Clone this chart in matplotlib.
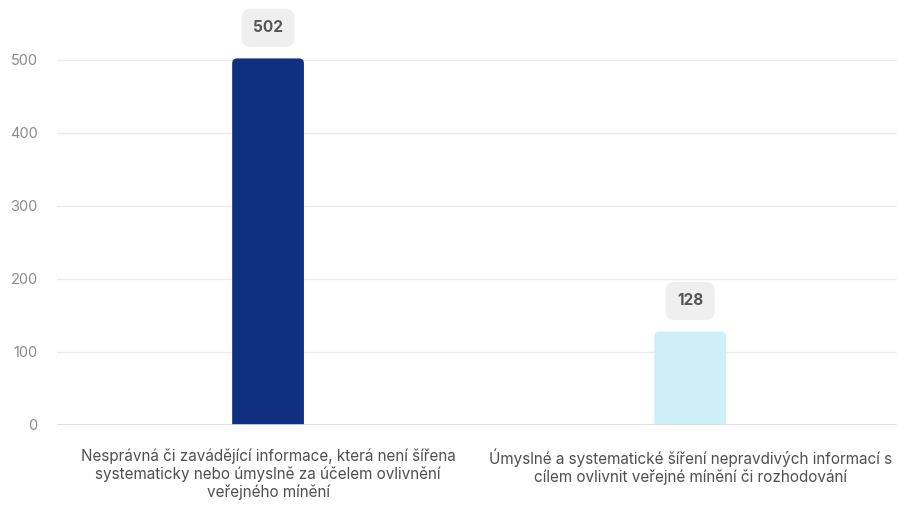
import matplotlib
matplotlib.use('Agg')
import matplotlib.pyplot as plt
from matplotlib.patches import FancyBboxPatch

categories = [
    'Nesprávná či zavádějící informace, která není šířena\nsystematicky nebo úmyslně za účelem ovlivnění\nveřejného mínění',
    'Úmyslné a systematické šíření nepravdivých informací s\ncílem ovlivnit veřejné mínění či rozhodování',
]
values = [502, 128]
colors = ['#102f80', '#cdeff8']
yticks = [0, 100, 200, 300, 400, 500]

plt.rcParams['font.family'] = ['Inter', 'DejaVu Sans']

fig = plt.figure(figsize=(8.97, 5.05), dpi=100)
ax = fig.add_axes([57 / 897, 80 / 505, 1 - 57 / 897, 425 / 505])

ax.set_xlim(-0.5, 1.49)
ax.set_ylim(0, 582)

x = list(range(len(values)))
bars = ax.bar(x, values, width=0.17, color=colors, zorder=3)

# rounded top corners: replace each bar by a rounded patch that starts below 0
# (the axes clip off the lower rounded corners)
px_x = 840 / 1.99
px_y = 425 / 582
asp = px_x / px_y
r = 5 / px_x
for b, c in zip(bars, colors):
    bx, bw, bh = b.get_x(), b.get_width(), b.get_height()
    b.set_visible(False)
    y0 = -20
    ax.add_patch(FancyBboxPatch((bx + r, y0 + r * asp), bw - 2 * r, bh - y0 - 2 * r * asp,
                                boxstyle=f'round,pad={r},rounding_size={r}',
                                mutation_aspect=asp, fc=c, ec='none', zorder=3))

ax.set_yticks(yticks)
ax.set_yticklabels([str(t) for t in yticks], fontsize=10.5, color='#8a8a8a')
ax.set_xticks(x)
ax.set_xticklabels(categories, fontsize=11, color='#4f4f4f', linespacing=1.2)
ax.tick_params(axis='both', length=0)
ax.tick_params(axis='y', pad=14)
ax.tick_params(axis='x', pad=17)

ax.grid(axis='y', color='#ebebeb', linewidth=1, zorder=0)
for s in ax.spines.values():
    s.set_visible(False)
ax.axhline(0, color='#d9dde6', linewidth=1.2, zorder=4)

for xi, v in zip(x, values):
    ax.annotate(str(v), (xi, v), xytext=(0, 22), textcoords='offset points',
                ha='center', va='center', fontsize=11, fontweight='bold', color='#555555',
                bbox=dict(boxstyle='round,pad=0.75,rounding_size=0.6', fc='#efefef', ec='none'))

fig.savefig('out.png', dpi=100)
